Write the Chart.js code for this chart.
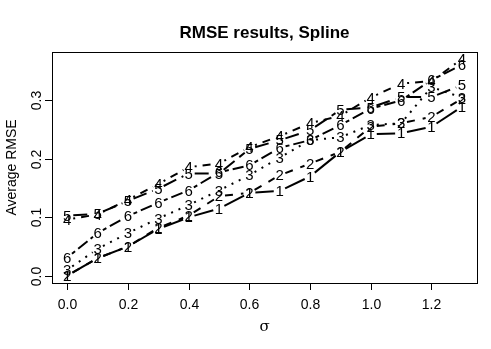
<!DOCTYPE html>
<html>
<head>
<meta charset="utf-8">
<script src="https://cdn.jsdelivr.net/npm/chart.js@4"></script>
<style>
html,body{margin:0;padding:0;background:#fff;}
#wrap{width:491px;height:349px;position:relative;}
</style>
</head>
<body>
<div id="wrap"><canvas id="c" width="491" height="349"></canvas></div>
<script>
const sigma = [0.0,0.1,0.2,0.3,0.4,0.5,0.6,0.7,0.8,0.9,1.0,1.1,1.2,1.3];
const s1 = [0.000,0.030,0.050,0.080,0.100,0.115,0.142,0.145,0.170,0.212,0.242,0.244,0.255,0.289];
const s2 = [0.000,0.030,0.050,0.082,0.103,0.136,0.142,0.172,0.192,0.212,0.255,0.261,0.272,0.303];
const s3 = [0.010,0.046,0.073,0.098,0.121,0.146,0.172,0.202,0.232,0.237,0.258,0.261,0.323,0.305];
const s4 = [0.096,0.105,0.130,0.157,0.186,0.192,0.220,0.239,0.261,0.274,0.305,0.329,0.333,0.371];
const s5 = [0.103,0.106,0.128,0.149,0.175,0.175,0.217,0.232,0.249,0.284,0.288,0.306,0.306,0.326];
const s6 = [0.031,0.073,0.102,0.125,0.146,0.177,0.189,0.219,0.232,0.258,0.286,0.300,0.335,0.361];
const seriesLabels = ["1","2","3","4","5","6"];
const xTicks = [0.0,0.2,0.4,0.6,0.8,1.0,1.2];
const yTicks = [0.0,0.1,0.2,0.3];
const titleText = "RMSE results, Spline";
const xTitle = "σ";
const yTitle = "Average RMSE";

const allSeries = [s1,s2,s3,s4,s5,s6];
const dashes = [[], [8,8], [2,6], [2,6,8,6], [14,6], [4,4,12,4]];

const datasets = allSeries.map((s,i)=>({
  label: seriesLabels[i],
  data: sigma.map((x,j)=>({x:x,y:s[j]})),
  showLine:false,
  pointRadius:0,
  pointHoverRadius:0
}));

const rPlot = {
  id:'rPlot',
  afterDatasetsDraw(chart){
    const ctx = chart.ctx;
    const a = chart.chartArea;
    const xs = chart.scales.x, ys = chart.scales.y;
    ctx.save();
    ctx.strokeStyle = '#000';
    ctx.lineWidth = 2;
    ctx.lineCap = 'butt';
    const gap = 6;
    chart.data.datasets.forEach((ds,i)=>{
      const meta = chart.getDatasetMeta(i);
      ctx.setLineDash(dashes[i]);
      for(let k=0;k<meta.data.length-1;k++){
        const p = meta.data[k], q = meta.data[k+1];
        const dx = q.x-p.x, dy = q.y-p.y;
        const L = Math.hypot(dx,dy);
        if(L <= 2*gap) continue;
        const ux = dx/L, uy = dy/L;
        ctx.beginPath();
        ctx.lineDashOffset = 0;
        ctx.moveTo(p.x+ux*gap, p.y+uy*gap);
        ctx.lineTo(q.x-ux*gap, q.y-uy*gap);
        ctx.stroke();
      }
    });
    ctx.setLineDash([]);
    ctx.fillStyle = '#000';
    ctx.font = '15px "Liberation Sans", Arial, sans-serif';
    ctx.textAlign = 'center';
    ctx.textBaseline = 'middle';
    chart.data.datasets.forEach((ds,i)=>{
      const meta = chart.getDatasetMeta(i);
      meta.data.forEach(p=>{ ctx.fillText(ds.label, p.x, p.y+1); });
    });
    ctx.lineWidth = 1;
    ctx.strokeStyle = '#000';
    ctx.strokeRect(Math.round(a.left)+0.5, Math.round(a.top)+0.5, Math.round(a.right-a.left), Math.round(a.bottom-a.top));
    ctx.font = '14px "Liberation Sans", Arial, sans-serif';
    ctx.textBaseline = 'middle';
    xTicks.forEach(v=>{
      const px = Math.round(xs.getPixelForValue(v))+0.5;
      ctx.beginPath();
      ctx.moveTo(px, a.bottom); ctx.lineTo(px, a.bottom+7); ctx.stroke();
      ctx.fillText(v.toFixed(1), px, a.bottom+22);
    });
    yTicks.forEach(v=>{
      const py = Math.round(ys.getPixelForValue(v))+0.5;
      ctx.beginPath();
      ctx.moveTo(a.left, py); ctx.lineTo(a.left-7, py); ctx.stroke();
      ctx.save();
      ctx.translate(a.left-15, py);
      ctx.rotate(-Math.PI/2);
      ctx.textAlign='center'; ctx.textBaseline='middle';
      ctx.fillText(v.toFixed(1), 0, 0);
      ctx.restore();
    });
    ctx.save();
    ctx.translate(12, (a.top+a.bottom)/2);
    ctx.rotate(-Math.PI/2);
    ctx.fillText(yTitle, 0, 0);
    ctx.restore();
    ctx.font = '15px "DejaVu Serif", "Liberation Serif", serif';
    ctx.fillText(xTitle, (a.left+a.right)/2, a.bottom+44);
    ctx.font = 'bold 17px "Liberation Sans", Arial, sans-serif';
    ctx.fillText(titleText, (a.left+a.right)/2, 33);
    ctx.restore();
  }
};

new Chart(document.getElementById('c'), {
  type:'scatter',
  data:{datasets},
  options:{
    responsive:false,
    animation:false,
    devicePixelRatio:1,
    layout:{padding:{left:52,right:14,top:52,bottom:66}},
    plugins:{legend:{display:false},tooltip:{enabled:false},title:{display:false}},
    events:[],
    scales:{
      x:{type:'linear',display:false,min:-0.0504,max:1.350},
      y:{type:'linear',display:false,min:-0.0125,max:0.383}
    }
  },
  plugins:[rPlot]
});
</script>
</body>
</html>
